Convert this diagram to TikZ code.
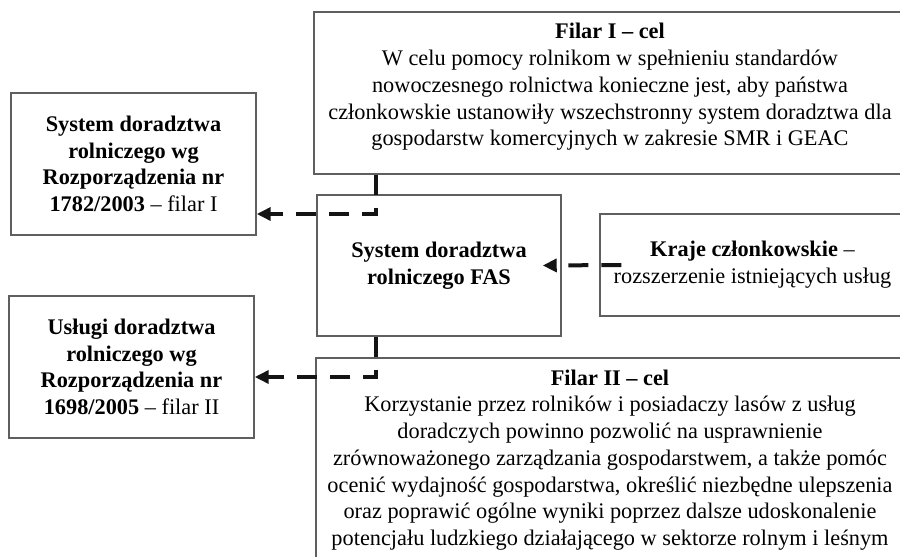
\documentclass[tikz,border=0pt]{standalone}
\usepackage{fontspec}
\setmainfont{Liberation Serif}
\usepackage{tikz}
\usetikzlibrary{arrows.meta,positioning,calc}
\definecolor{boxgray}{RGB}{95,95,95}
\definecolor{dashblack}{RGB}{20,20,20}

\begin{document}
\begin{tikzpicture}[
    x=0.02cm, y=-0.02cm,
    box/.style={rectangle, draw=boxgray, line width=0.03cm, inner sep=0pt},
    txt/.style={align=center, font=\fontsize{12.7}{15.2}\selectfont, inner sep=0pt},
    link/.style={draw=dashblack, line width=0.08cm, dash pattern=on 0.4cm off 0.26cm, -{Triangle[length=0.28cm, width=0.26cm]}}
]
\clip (0,0) rectangle (900,557);

% Filar I block
\node[box, minimum width=11.82cm, minimum height=3.24cm] (filar1) at (609.5,93) {};
\node[txt] (filar1txt) at (610,87) {\textbf{Filar I – cel}\\W celu pomocy rolnikom w spełnieniu standardów\\nowoczesnego rolnictwa konieczne jest, aby państwa\\członkowskie ustanowiły wszechstronny system doradztwa dla\\gospodarstw komercyjnych w zakresie SMR i GEAC};

% Left blocks
\node[box, txt, minimum width=4.9cm, minimum height=2.84cm] (sys1) at (133.5,164) {\textbf{System doradztwa}\\\textbf{rolniczego wg}\\\textbf{Rozporządzenia nr}\\\textbf{1782/2003} – filar I};
\node[box, txt, minimum width=4.9cm, minimum height=2.84cm] (sys2) at (131.5,367) {\textbf{Usługi doradztwa}\\\textbf{rolniczego wg}\\\textbf{Rozporządzenia nr}\\\textbf{1698/2005} – filar II};

% FAS block
\node[box, txt, minimum width=4.88cm, minimum height=2.82cm] (fas) at (439,265.5) {\textbf{System doradztwa}\\\textbf{rolniczego FAS}};

% Member states block
\node[box, txt, minimum width=6.1cm, minimum height=2.04cm] (kraje) at (752.5,265) {\textbf{Kraje członkowskie} –\\rozszerzenie istniejących usług};

% Filar II block
\node[box, minimum width=11.78cm, minimum height=4.84cm] (filar2) at (610.5,479) {};
\node[txt] (filar2txt) at (610,460) {\textbf{Filar II – cel}\\Korzystanie przez rolników i posiadaczy lasów z usług\\doradczych powinno pozwolić na usprawnienie\\zrównoważonego zarządzania gospodarstwem, a także pomóc\\ocenić wydajność gospodarstwa, określić niezbędne ulepszenia\\oraz poprawić ogólne wyniki poprzez dalsze udoskonalenie\\potencjału ludzkiego działającego w sektorze rolnym i leśnym};

% Dashed connectors
\coordinate (bend1) at (376,214);
\coordinate (bend2) at (376,377);
\draw[link] (filar1.south -| bend1) |- (sys1.east |- bend1);
\draw[link] (fas.south -| bend2) |- (sys2.east |- bend2);
\draw[link] ([xshift=0.44cm]kraje.west) -- ([xshift=-0.38cm]fas.east);

\end{tikzpicture}
\end{document}
